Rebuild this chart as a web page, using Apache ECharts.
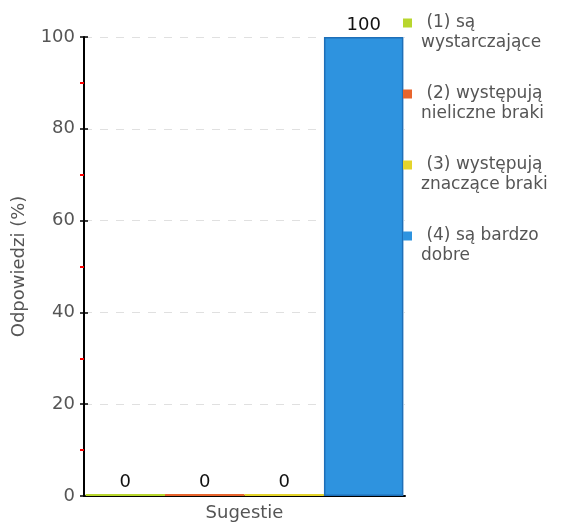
<!DOCTYPE html>
<html><head><meta charset="utf-8">
<script src="https://cdn.jsdelivr.net/npm/echarts@6/dist/echarts.min.js"></script>
<style>html,body{margin:0;padding:0;background:#fff}#c{width:576px;height:525px}</style>
</head><body><div id="c"></div>
<script>
const categories = ['Sugestie'];
const seriesNames = [' (1) są\nwystarczające', ' (2) występują\nnieliczne braki', ' (3) występują\nznaczące braki', ' (4) są bardzo\ndobre'];
const seriesValues = [[0], [0], [0], [100]];
const seriesColors = ['#b8d62e', '#e8652e', '#e4d42c', '#2e93df'];
const yTicks = [0, 20, 40, 60, 80, 100];

const chart = echarts.init(document.getElementById('c'));
const font = 'DejaVu Sans';
const legendIcon = 'path://M0,0L0,0.01 M0,5.5L9,5.5L9,14.5L0,14.5Z M0,40L0,40.01';
chart.setOption({
  animation: false,
  textStyle: { fontFamily: font },
  grid: { left: 84, right: 171, top: 37, bottom: 29, outerBoundsMode: 'none', containLabel: false },
  legend: {
    orient: 'vertical', left: 398, top: 8,
    itemWidth: 9, itemHeight: 40, itemGap: 31,
    icon: legendIcon,
    itemStyle: { borderWidth: 0 },
    data: seriesNames,
    textStyle: { fontFamily: font, fontSize: 17, color: '#555', lineHeight: 20, padding: [0, 0, 0, 4] }
  },
  xAxis: [{
    type: 'category', data: categories,
    axisLine: { lineStyle: { color: '#000', width: 2 } },
    axisTick: { alignWithLabel: true, length: 4, lineStyle: { color: '#000', width: 1.5 } },
    axisLabel: { color: '#555', fontSize: 18, margin: 8 }
  }, {
    type: 'category', data: categories, position: 'bottom', gridIndex: 0,
    axisLine: { show: false }, axisLabel: { show: false },
    axisTick: { inside: true, alignWithLabel: true, length: 4, lineStyle: { color: '#000', width: 1.5 } }
  }],
  yAxis: [{
    type: 'value', min: 0, max: 100, interval: 20,
    name: 'Odpowiedzi (%)', nameLocation: 'middle', nameGap: 56,
    nameTextStyle: { color: '#555', fontSize: 18 },
    axisLine: { show: true, lineStyle: { color: '#000', width: 2 } },
    axisTick: { show: true, length: 4, lineStyle: { color: '#000', width: 1.5 } },
    minorTick: { show: true, splitNumber: 2, length: 4, lineStyle: { color: '#ff0000', width: 2 } },
    axisLabel: { color: '#555', fontSize: 18, margin: 9, customValues: yTicks },
    splitLine: { show: true, lineStyle: { color: '#e0e0e0', type: [8, 8], width: 1 } }
  }, {
    type: 'value', min: 0, max: 100, interval: 20, position: 'left',
    axisLine: { show: false }, axisLabel: { show: false }, splitLine: { show: false },
    axisTick: { show: true, inside: true, length: 4, lineStyle: { color: '#000', width: 1.5 } }
  }],
  series: seriesNames.map((n, i) => ({
    name: n, type: 'bar', data: seriesValues[i],
    barGap: '0%', barCategoryGap: '1%', barMinHeight: 2,
    itemStyle: { color: seriesColors[i], borderColor: i === 3 ? '#1e6fb8' : seriesColors[i], borderWidth: i === 3 ? 1.5 : 0 },
    label: { show: true, position: 'top', distance: 3, color: '#111', fontSize: 18, fontFamily: font }
  }))
});
</script>
</body></html>
